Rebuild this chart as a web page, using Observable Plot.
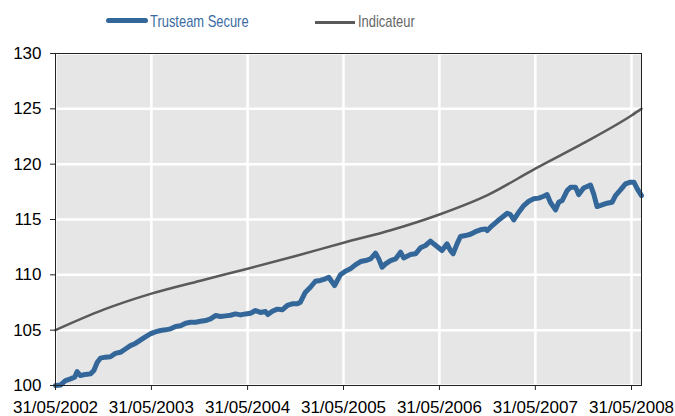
<!DOCTYPE html>
<html><head><meta charset="utf-8">
<script src="https://cdn.jsdelivr.net/npm/d3@7"></script>
<script src="https://cdn.jsdelivr.net/npm/@observablehq/plot@0.6"></script>
<style>
body{margin:0;background:#fff;}
#wrap{position:relative;width:675px;height:416px;overflow:hidden;}
.leg{position:absolute;top:13px;font-family:"Liberation Sans",Arial,sans-serif;font-size:17px;line-height:1;white-space:nowrap;transform:scaleX(0.76);transform-origin:0 0;}
.sw{position:absolute;}
</style></head><body>
<div id="wrap">
<div id="chart"></div>
<div class="sw" style="left:106px;top:18px;width:42px;height:5px;background:#336699;border-radius:2.5px"></div>
<div class="leg" id="l1" style="left:150px;color:#3a6ba3"></div>
<div class="sw" style="left:315px;top:21px;width:40px;height:2.5px;background:#5a5a5a"></div>
<div class="leg" id="l2" style="left:358px;color:#666"></div>
</div>
<script>
const seriesNames = ["Trusteam Secure", "Indicateur"];
const yTicks = [100, 105, 110, 115, 120, 125, 130];
const xTickDates = ["2002-05-31","2003-05-31","2004-05-31","2005-05-31","2006-05-31","2007-05-31","2008-05-31"];
const xDomain = ["2002-05-31", "2008-07-08"];

const secureDates = ["2002-05-31","2002-06-20","2002-07-08","2002-07-27","2002-08-12","2002-08-21","2002-09-03","2002-09-22","2002-10-11","2002-10-24","2002-11-06","2002-11-18","2002-12-07","2002-12-26","2003-01-14","2003-02-02","2003-02-21","2003-03-12","2003-03-31","2003-04-19","2003-05-08","2003-05-27","2003-06-15","2003-07-05","2003-07-24","2003-08-12","2003-08-31","2003-09-19","2003-10-08","2003-10-27","2003-11-15","2003-12-04","2003-12-23","2004-01-11","2004-01-30","2004-02-18","2004-03-08","2004-03-27","2004-04-15","2004-05-04","2004-05-23","2004-06-11","2004-06-30","2004-07-19","2004-08-07","2004-08-16","2004-09-02","2004-09-21","2004-10-10","2004-10-29","2004-11-17","2004-12-06","2004-12-18","2005-01-06","2005-01-25","2005-02-13","2005-03-04","2005-03-23","2005-04-05","2005-04-27","2005-05-19","2005-06-07","2005-06-26","2005-07-15","2005-08-04","2005-08-23","2005-09-11","2005-09-30","2005-10-12","2005-10-25","2005-11-07","2005-11-26","2005-12-15","2006-01-03","2006-01-15","2006-02-10","2006-03-01","2006-03-20","2006-04-08","2006-04-27","2006-05-09","2006-05-22","2006-06-10","2006-06-29","2006-07-12","2006-07-22","2006-08-06","2006-08-19","2006-09-07","2006-09-26","2006-10-15","2006-11-03","2006-11-22","2006-11-29","2006-12-18","2007-01-06","2007-01-25","2007-02-13","2007-02-25","2007-03-10","2007-03-29","2007-04-17","2007-05-06","2007-05-25","2007-06-13","2007-07-02","2007-07-15","2007-07-27","2007-08-16","2007-08-28","2007-09-10","2007-09-29","2007-10-12","2007-10-31","2007-11-12","2007-12-01","2007-12-27","2008-01-08","2008-01-21","2008-02-09","2008-02-28","2008-03-18","2008-03-31","2008-04-19","2008-05-08","2008-05-27","2008-06-09","2008-06-22","2008-07-08"];
const secureValues = [100.0,100.05,100.45,100.6,100.75,101.25,100.9,101.0,101.05,101.35,102.1,102.47,102.56,102.6,102.9,103.0,103.3,103.6,103.8,104.1,104.4,104.67,104.85,104.97,105.03,105.12,105.33,105.4,105.63,105.72,105.72,105.8,105.87,106.02,106.32,106.23,106.29,106.35,106.47,106.38,106.47,106.53,106.77,106.6,106.68,106.41,106.71,106.9,106.84,107.23,107.38,107.38,107.53,108.43,108.88,109.42,109.49,109.64,109.78,109.03,110.0,110.33,110.54,110.9,111.2,111.29,111.44,111.95,111.44,110.69,110.99,111.29,111.44,112.04,111.53,111.83,111.9,112.44,112.65,113.04,112.8,112.56,112.2,112.8,112.2,111.9,112.8,113.46,113.55,113.67,113.9,114.07,114.15,114.0,114.45,114.84,115.2,115.57,115.45,114.97,115.66,116.26,116.65,116.87,116.93,117.1,117.25,116.56,115.87,116.56,116.71,117.61,117.91,117.91,117.25,117.85,118.12,117.31,116.17,116.32,116.47,116.56,117.16,117.67,118.21,118.37,118.37,117.77,117.16];

const indicDates = ["2002-05-31","2002-11-30","2003-05-31","2003-11-30","2004-05-31","2004-11-30","2005-05-31","2005-11-30","2006-05-31","2006-11-30","2007-05-31","2007-11-30","2008-05-31","2008-07-08"];
const indicValues = [105.0,106.85,108.3,109.45,110.55,111.7,112.9,114.05,115.45,117.2,119.6,121.9,124.4,125.0];

const secure = secureDates.map((d, i) => ({date: new Date(d), value: secureValues[i]}));
const indic = indicDates.map((d, i) => ({date: new Date(d), value: indicValues[i]}));
const tickDates = xTickDates.map(d => new Date(d));

document.getElementById("l1").textContent = seriesNames[0];
document.getElementById("l2").textContent = seriesNames[1];

const chart = Plot.plot({
  width: 675, height: 416,
  marginTop: 53, marginBottom: 31, marginLeft: 55, marginRight: 34,
  style: {fontFamily: "'Liberation Sans', Arial, sans-serif", fontSize: "17px", color: "#000", background: "transparent", overflow: "visible"},
  x: {type: "utc", domain: xDomain.map(d => new Date(d))},
  y: {domain: [100, 130]},
  marks: [
    Plot.frame({fill: "#e6e6e6", stroke: "none"}),
    Plot.gridX(tickDates, {stroke: "#fff", strokeOpacity: 1, strokeWidth: 2.5}),
    Plot.gridY(yTicks, {stroke: "#fff", strokeOpacity: 1, strokeWidth: 2.5}),
    Plot.line(indic, {x: "date", y: "value", stroke: "#5a5a5a", strokeWidth: 2.5, curve: "monotone-x"}),
    Plot.line(secure, {x: "date", y: "value", stroke: "#336699", strokeWidth: 5, strokeLinejoin: "round", strokeLinecap: "round"}),
    Plot.frame({stroke: "#222", strokeWidth: 1}),
    Plot.axisX(tickDates, {tickSize: 5, tickPadding: 10, tickFormat: d3.utcFormat("%d/%m/%Y"), label: null, stroke: "#222", fill: "#000"}),
    Plot.axisY(yTicks, {tickSize: 5, tickPadding: 9, label: null, stroke: "#222", fill: "#000"})
  ]
});
document.getElementById("chart").appendChild(chart);
</script>
</body></html>
